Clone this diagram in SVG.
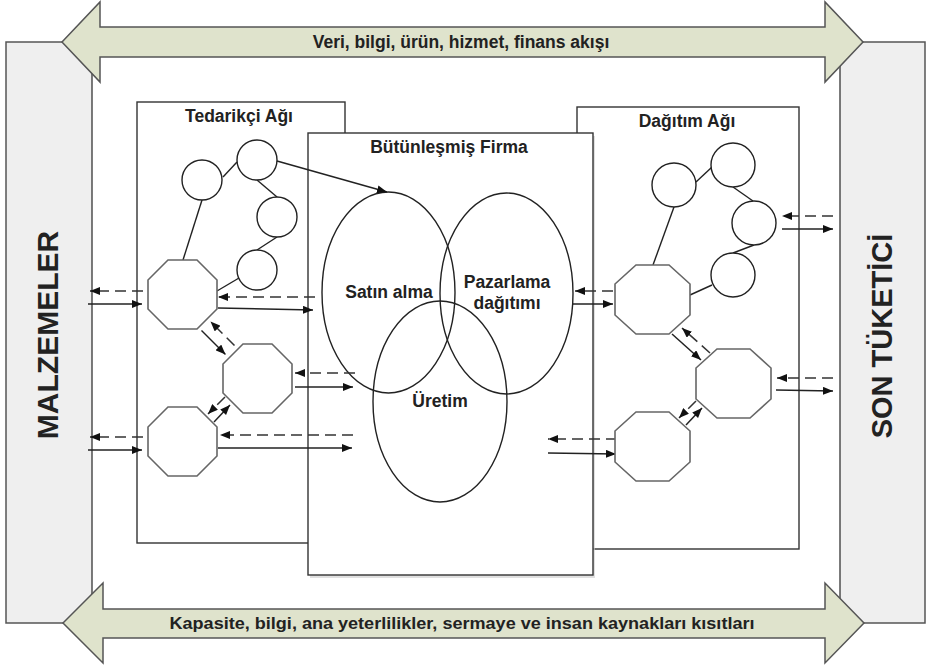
<svg xmlns="http://www.w3.org/2000/svg" width="927" height="669" viewBox="0 0 927 669">
<defs>
<style>
.lbl{font-family:"Liberation Sans",Arial,sans-serif;font-weight:bold;fill:#222;text-anchor:middle}
.box{fill:#fff;stroke:#333;stroke-width:1.4}
.oct{fill:#fff;stroke:#666;stroke-width:1.6}
.cir{fill:#fff;stroke:#222;stroke-width:1.4}
.ell{fill:none;stroke:#222;stroke-width:1.4}
.ln{fill:none;stroke:#222;stroke-width:1.4}
.sol{fill:none;stroke:#222;stroke-width:1.5;marker-end:url(#ah)}
.dsh{fill:none;stroke:#333;stroke-width:1.5;stroke-dasharray:11 6;marker-end:url(#ah)}
.bigarrow{fill:#dfe3cc;stroke:#555;stroke-width:1.5}
</style>
<marker id="ah" markerUnits="userSpaceOnUse" markerWidth="10" markerHeight="8" viewBox="0 0 10 8" refX="10" refY="4" orient="auto">
<path d="M0,0 L10,4 L0,8 z" fill="#111"/>
</marker>
</defs>
<rect width="927" height="669" fill="#fff"/>
<g id="frame">
<rect x="6" y="42" width="919" height="581" fill="#efefef" stroke="#555" stroke-width="1.5"/>
<rect x="92" y="42" width="748" height="581" fill="#fff" stroke="#444" stroke-width="1.4"/>
</g>
<g id="malzemeler">
<text class="lbl" transform="translate(58,335) rotate(-90)" font-size="30" fill="#111">MALZEMELER</text>
</g>
<g id="son-tuketici">
<text class="lbl" transform="translate(892,336) rotate(-90)" font-size="29" fill="#111">SON TÜKETİCİ</text>
</g>
<g id="tedarikci-agi">
<rect class="box" x="137" y="102" width="208" height="441"/>
<text class="lbl" x="239" y="122" font-size="17.5">Tedarikçi Ağı</text>
</g>
<g id="dagitim-agi">
<rect class="box" x="577" y="107" width="222" height="442"/>
<text class="lbl" x="687" y="127" font-size="17.5">Dağıtım Ağı</text>
</g>
<g id="butunlesmis-firma">
<rect x="310" y="136" width="285" height="442" fill="#ccc" opacity="0.6"/>
<rect class="box" x="308" y="133" width="285" height="442"/>
<text class="lbl" x="449" y="153" font-size="17.5">Bütünleşmiş Firma</text>
</g>
<g id="satin-alma">
<ellipse class="ell" cx="388.5" cy="292.5" rx="66.5" ry="100.5"/>
<text class="lbl" x="389" y="298" font-size="17.5">Satın alma</text>
</g>
<g id="pazarlama">
<ellipse class="ell" cx="506.5" cy="293.5" rx="66.5" ry="100.5"/>
<text class="lbl" x="507" y="288" font-size="17.5">Pazarlama</text>
<text class="lbl" x="507" y="309" font-size="17.5">dağıtımı</text>
</g>
<g id="uretim">
<ellipse class="ell" cx="440" cy="401.5" rx="67" ry="100.5"/>
<text class="lbl" x="440" y="407" font-size="17.5">Üretim</text>
</g>
<g id="connectors">
<line class="ln" x1="223" y1="177" x2="237" y2="162"/>
<line class="ln" x1="257" y1="180" x2="277" y2="197"/>
<line class="ln" x1="277" y1="237" x2="257" y2="250"/>
<line class="ln" x1="202" y1="200" x2="183" y2="260"/>
<line class="ln" x1="239" y1="278" x2="217" y2="291"/>
<line class="ln" x1="696" y1="182" x2="712" y2="167"/>
<line class="ln" x1="733" y1="187" x2="753" y2="201"/>
<line class="ln" x1="754" y1="245" x2="733" y2="253"/>
<line class="ln" x1="674" y1="207" x2="653" y2="265"/>
<line class="ln" x1="712" y1="285" x2="690" y2="295"/>
<line class="sol" x1="277" y1="161" x2="387" y2="192"/>
<line class="dsh" x1="143" y1="291" x2="90" y2="291"/>
<line class="sol" x1="88" y1="304" x2="142" y2="304"/>
<line class="dsh" x1="315" y1="297" x2="218" y2="297"/>
<line class="sol" x1="218" y1="308" x2="313" y2="310"/>
<line class="dsh" x1="355" y1="373" x2="295" y2="373"/>
<line class="sol" x1="295" y1="387" x2="353" y2="387"/>
<line class="dsh" x1="143" y1="437" x2="90" y2="437"/>
<line class="sol" x1="88" y1="450" x2="142" y2="450"/>
<line class="dsh" x1="353" y1="435" x2="220" y2="435"/>
<line class="sol" x1="218" y1="448" x2="352" y2="448"/>
<line class="dsh" x1="833" y1="216" x2="782" y2="216"/>
<line class="sol" x1="782" y1="229" x2="833" y2="229"/>
<line class="dsh" x1="613" y1="291" x2="575" y2="291"/>
<line class="sol" x1="573" y1="304" x2="613" y2="304"/>
<line class="dsh" x1="833" y1="378" x2="777" y2="378"/>
<line class="sol" x1="776" y1="390" x2="833" y2="391"/>
<line class="dsh" x1="617" y1="439" x2="548" y2="439"/>
<line class="sol" x1="548" y1="453" x2="616" y2="454"/>
<line class="sol" x1="201.5" y1="330.5" x2="225.5" y2="354.5"/>
<line class="dsh" x1="234.5" y1="345.5" x2="210.5" y2="321.5"/>
<line class="dsh" x1="225" y1="397" x2="208" y2="414"/>
<line class="sol" x1="214" y1="422" x2="230" y2="405"/>
<line class="dsh" x1="710" y1="353" x2="682" y2="328"/>
<line class="sol" x1="672" y1="334" x2="701" y2="360"/>
<line class="dsh" x1="696" y1="401" x2="679" y2="418"/>
<line class="sol" x1="686" y1="425" x2="702" y2="408"/>
</g>
<g id="t-c1"><circle class="cir" cx="202" cy="180" r="20"/></g>
<g id="t-c2"><circle class="cir" cx="257" cy="160" r="20"/></g>
<g id="t-c3"><circle class="cir" cx="277" cy="217" r="20"/></g>
<g id="t-c4"><circle class="cir" cx="257" cy="270" r="20"/></g>
<g id="d-c1"><circle class="cir" cx="674" cy="185" r="22"/></g>
<g id="d-c2"><circle class="cir" cx="733" cy="165" r="22"/></g>
<g id="d-c3"><circle class="cir" cx="754" cy="223" r="22"/></g>
<g id="d-c4"><circle class="cir" cx="733" cy="275" r="22"/></g>
<g id="t-oct1"><polygon class="oct" points="168,260 197,260 217,280 217,309 197,329 168,329 148,309 148,280"/></g>
<g id="t-oct2"><polygon class="oct" points="243,344 272,344 292,364 292,393 272,413 243,413 223,393 223,364"/></g>
<g id="t-oct3"><polygon class="oct" points="168,407 197,407 217,427 217,456 197,476 168,476 148,456 148,427"/></g>
<g id="d-oct4"><polygon class="oct" points="636,265 669,265 690,284 690,315 669,334 636,334 615,315 615,284"/></g>
<g id="d-oct5"><polygon class="oct" points="717,349 750,349 771,368 771,399 750,418 717,418 696,399 696,368"/></g>
<g id="d-oct6"><polygon class="oct" points="636,412 669,412 690,431 690,462 669,481 636,481 615,462 615,431"/></g>
<g id="flow-arrow">
<polygon class="bigarrow" points="62,42 100,2 100,27 825,27 825,2 863,42 825,82 825,57 100,57 100,82"/>
<text class="lbl" x="461" y="48" font-size="17.5">Veri, bilgi, ürün, hizmet, finans akışı</text>
</g>
<g id="constraint-arrow">
<polygon class="bigarrow" points="63,623 103,583 103,609 825,609 825,583 864,623 825,663 825,638 103,638 103,663"/>
<text class="lbl" x="462" y="629" font-size="17" textLength="585" lengthAdjust="spacingAndGlyphs">Kapasite, bilgi, ana yeterlilikler, sermaye ve insan kaynakları kısıtları</text>
</g>
</svg>
